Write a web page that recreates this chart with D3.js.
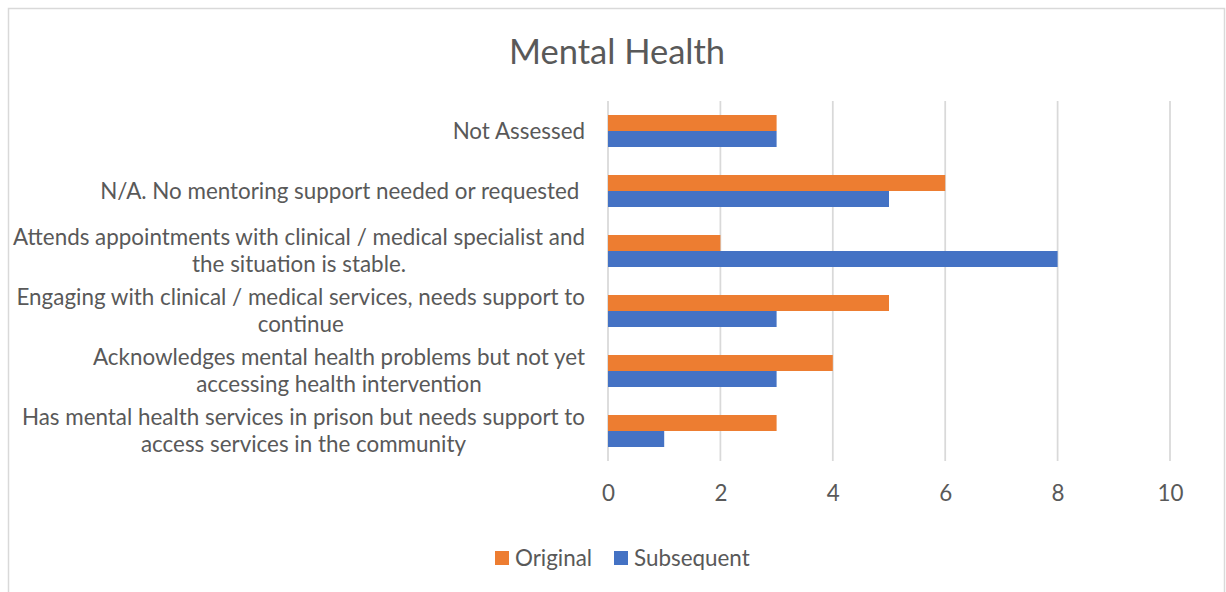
<!DOCTYPE html>
<html>
<head>
<meta charset="utf-8">
<script src="https://cdn.jsdelivr.net/npm/d3@7"></script>
<style>
  html, body { margin: 0; padding: 0; background: #fff; }
  svg { display: block; font-family: Lato, "Open Sans", sans-serif; }
</style>
</head>
<body>
<svg id="chart" width="1226" height="592"></svg>
<script>
// Category labels, top to bottom ("\n" marks a line break)
const categories = [
  "Not Assessed",
  "N/A. No mentoring support needed or requested ",
  "Attends appointments with clinical / medical specialist and\nthe situation is stable.",
  "Engaging with clinical / medical services, needs support to\ncontinue",
  "Acknowledges mental health problems but not yet\naccessing health intervention",
  "Has mental health services in prison but needs support to\naccess services in the community"
];
const seriesNames = ["Original", "Subsequent"];
const originalValues   = [3, 6, 2, 5, 4, 3];
const subsequentValues = [3, 5, 8, 3, 3, 1];
const xTicks = [0, 2, 4, 6, 8, 10];
const chartTitle = "Mental Health";

const colors = { Original: "#ED7D31", Subsequent: "#4472C4" };
const textColor = "#595959";
const gridColor = "#D9D9D9";
const labelSize = "22.4px";

const svg = d3.select("#chart");

// Outer chart frame
svg.append("rect")
  .attr("x", 8.5).attr("y", 8.5)
  .attr("width", 1216).attr("height", 600)
  .attr("fill", "#fff")
  .attr("stroke", "#D9D9D9").attr("stroke-width", 1.5);

// Title
svg.append("text")
  .attr("x", 617).attr("y", 64)
  .attr("text-anchor", "middle")
  .attr("fill", textColor)
  .style("font-size", "34.5px")
  .text(chartTitle);

const plot = { left: 608, right: 1170, top: 101, bottom: 461 };

const x = d3.scaleLinear()
  .domain([d3.min(xTicks), d3.max(xTicks)])
  .range([plot.left, plot.right]);

const y = d3.scaleBand()
  .domain(categories)
  .range([plot.top, plot.bottom])
  .padding(0);

const barH = 16;

// Vertical gridlines
svg.append("g")
  .selectAll("line")
  .data(xTicks)
  .join("line")
  .attr("x1", d => x(d)).attr("x2", d => x(d))
  .attr("y1", plot.top).attr("y2", plot.bottom)
  .attr("stroke", gridColor).attr("stroke-width", 1.75);

// Bars: Original above, Subsequent below, centred on each band
const rows = categories.map((c, i) => ({
  cat: c, Original: originalValues[i], Subsequent: subsequentValues[i]
}));

const barG = svg.append("g");
seriesNames.forEach((s, si) => {
  barG.selectAll("rect." + s)
    .data(rows)
    .join("rect")
    .attr("class", s)
    .attr("x", x(0))
    .attr("y", d => y(d.cat) + y.bandwidth() / 2 - barH + si * barH)
    .attr("width", d => x(d[s]) - x(0))
    .attr("height", barH)
    .attr("fill", colors[s]);
});

// X axis tick labels
const xAxis = d3.axisBottom(x).tickValues(xTicks).tickSize(0).tickPadding(0);
const xg = svg.append("g")
  .attr("transform", `translate(0, ${plot.bottom + 24})`)
  .call(xAxis);
xg.select(".domain").remove();
xg.selectAll("text")
  .attr("fill", textColor)
  .attr("dy", "0.71em")
  .style("font-size", labelSize)
  .style("font-family", "Lato, 'Open Sans', sans-serif");

// Category labels: each line centred within a block that is right-aligned
const lineH = 27;
const labelRight = 585;
const labelG = svg.append("g")
  .attr("fill", textColor)
  .style("font-size", labelSize);

categories.forEach(c => {
  const lines = c.split("\n");
  const cy = y(c) + y.bandwidth() / 2;
  const t = labelG.append("text")
    .style("white-space", "pre")
    .attr("text-anchor", "middle");
  lines.forEach((ln, i) => {
    t.append("tspan")
      .attr("x", 0)
      .attr("y", cy + (i - (lines.length - 1) / 2) * lineH)
      .attr("dy", "0.35em")
      .text(ln);
  });
  // shift so the widest line ends at labelRight
  const widths = t.selectAll("tspan").nodes().map(n => n.getComputedTextLength());
  const maxW = d3.max(widths);
  t.attr("transform", `translate(${labelRight - maxW / 2}, 0)`);
});

// Legend
const legend = svg.append("g").style("font-size", labelSize);
const legendItems = [
  { name: "Original", x: 495 },
  { name: "Subsequent", x: 614 }
];
legendItems.forEach(it => {
  legend.append("rect")
    .attr("x", it.x).attr("y", 551)
    .attr("width", 14).attr("height", 14)
    .attr("fill", colors[it.name]);
  legend.append("text")
    .attr("x", it.x + 20).attr("y", 558)
    .attr("dy", "0.35em")
    .attr("fill", textColor)
    .text(it.name);
});
</script>
</body>
</html>
